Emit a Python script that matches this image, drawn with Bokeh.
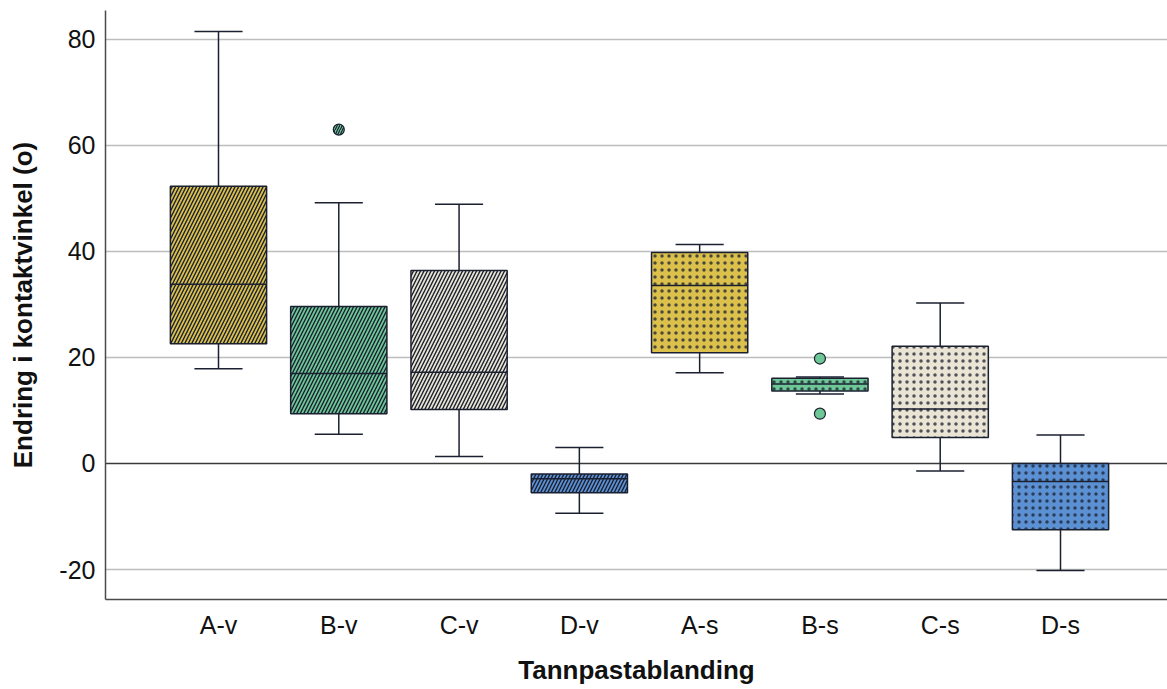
from bokeh.plotting import figure
from bokeh.models import Range1d, FixedTicker, Span, ColumnDataSource
from bokeh.embed import file_html
from bokeh.resources import INLINE

# ---- data ----
categories = ["A-v", "B-v", "C-v", "D-v", "A-s", "B-s", "C-s", "D-s"]
whisker_low = [17.9, 5.5, 1.3, -9.4, 17.1, 13.1, -1.4, -20.2]
q1 = [22.6, 9.4, 10.2, -5.5, 20.9, 13.7, 4.9, -12.5]
median = [33.8, 17.0, 17.2, -2.9, 33.6, 15.0, 10.3, -3.4]
q3 = [52.3, 29.6, 36.4, -2.0, 39.8, 16.1, 22.1, 0.0]
whisker_high = [81.5, 49.2, 48.9, 3.0, 41.3, 16.3, 30.3, 5.4]
outlier_cat = ["B-v", "B-s", "B-s"]
outlier_val = [63.0, 19.8, 9.4]
y_ticks = [-20, 0, 20, 40, 60, 80]
y_tick_labels = ["-20", "0", "20", "40", "60", "80"]

# ---- styles ----
group_colors = {"A": "#DBC14C", "B": "#6EC797", "C": "#E9E4D3", "D": "#5B90D3"}
hatch_for = {"v": "right_diagonal_line", "s": "dot"}
hatch_w = {"v": 1.4, "s": 1.0}
hatch_a = {"v": 1.0, "s": 0.75}
INK = "#1b2030"
FONT = "Liberation Sans"
BOX_W = 0.8
CAP_W = 0.4

pos = list(range(1, len(categories) + 1))
pos_of = {c: i for c, i in zip(categories, pos)}
fills = [group_colors[c[0]] for c in categories]
hatches = [hatch_for[c[-1]] for c in categories]

src = ColumnDataSource(dict(
    x=pos, lo=whisker_low, q1=q1, med=median, q3=q3, hi=whisker_high,
    fill=fills, hatch=hatches,
    hw=[hatch_w[c[-1]] for c in categories],
    ha=[hatch_a[c[-1]] for c in categories],
    x0=[x - BOX_W / 2 for x in pos], x1=[x + BOX_W / 2 for x in pos],
    c0=[x - CAP_W / 2 for x in pos], c1=[x + CAP_W / 2 for x in pos],
))

p = figure(width=1167, height=689,
           x_range=Range1d(0.0606, 8.8895), y_range=Range1d(-25.66, 85.47),
           output_backend="svg", toolbar_location=None,
           min_border_left=105, min_border_right=0, min_border_top=10, min_border_bottom=90)

p.outline_line_color = None
p.background_fill_color = "white"
p.xgrid.grid_line_color = None
p.ygrid.ticker = FixedTicker(ticks=[t for t in y_ticks if t != 0])
p.ygrid.grid_line_color = "#BDBDBD"
p.ygrid.grid_line_width = 1.5

zero = Span(location=0, dimension="width", line_color="#3a3a3a", line_width=1.5, level="underlay")
p.add_layout(zero)

# whiskers
p.segment(x0="x", y0="q3", x1="x", y1="hi", source=src, line_color=INK, line_width=1.5)
p.segment(x0="x", y0="lo", x1="x", y1="q1", source=src, line_color=INK, line_width=1.5)
p.segment(x0="c0", y0="hi", x1="c1", y1="hi", source=src, line_color=INK, line_width=1.5)
p.segment(x0="c0", y0="lo", x1="c1", y1="lo", source=src, line_color=INK, line_width=1.5)

# boxes
p.vbar(x="x", width=BOX_W, bottom="q1", top="q3", source=src,
       fill_color="fill", line_color=INK, line_width=1.5,
       hatch_pattern="hatch", hatch_color=INK, hatch_scale=7,
       hatch_weight="hw", hatch_alpha="ha")
# medians
p.segment(x0="x0", y0="med", x1="x1", y1="med", source=src, line_color=INK, line_width=1.5)

# outliers
osrc = ColumnDataSource(dict(
    x=[pos_of[c] for c in outlier_cat], y=outlier_val,
    fill=[group_colors[c[0]] for c in outlier_cat],
    hatch=[hatch_for[c[-1]] if c[-1] == "v" else " " for c in outlier_cat],
))
p.scatter(x="x", y="y", source=osrc, size=11, marker="circle",
          fill_color="fill", line_color=INK, line_width=1.2,
          hatch_pattern="hatch", hatch_color=INK, hatch_scale=5, hatch_weight=1.2)

# axes
p.xaxis.ticker = FixedTicker(ticks=pos)
p.xaxis.major_label_overrides = {x: c for x, c in zip(pos, categories)}
p.yaxis.ticker = FixedTicker(ticks=y_ticks)
p.yaxis.major_label_overrides = {t: s for t, s in zip(y_ticks, y_tick_labels)}

for ax in (p.xaxis[0], p.yaxis[0]):
    ax.axis_line_color = "#4a4a4a"
    ax.axis_line_width = 1.5
    ax.major_tick_line_color = None
    ax.minor_tick_line_color = None
    ax.major_tick_out = 0
    ax.major_tick_in = 0
    ax.major_label_text_font = FONT
    ax.major_label_text_font_size = "25px"
    ax.major_label_text_color = "#111111"
    ax.axis_label_text_font = FONT
    ax.axis_label_text_font_size = "26px"
    ax.axis_label_text_font_style = "bold"
    ax.axis_label_text_color = "#111111"

p.xaxis.axis_label = "Tannpastablanding"
p.yaxis.axis_label = "Endring i kontaktvinkel (o)"
p.xaxis.major_label_standoff = 11
p.xaxis.axis_label_standoff = 13
p.yaxis.major_label_standoff = 10
p.yaxis.axis_label_standoff = 18

open("out.html", "w").write(file_html(p, INLINE))
